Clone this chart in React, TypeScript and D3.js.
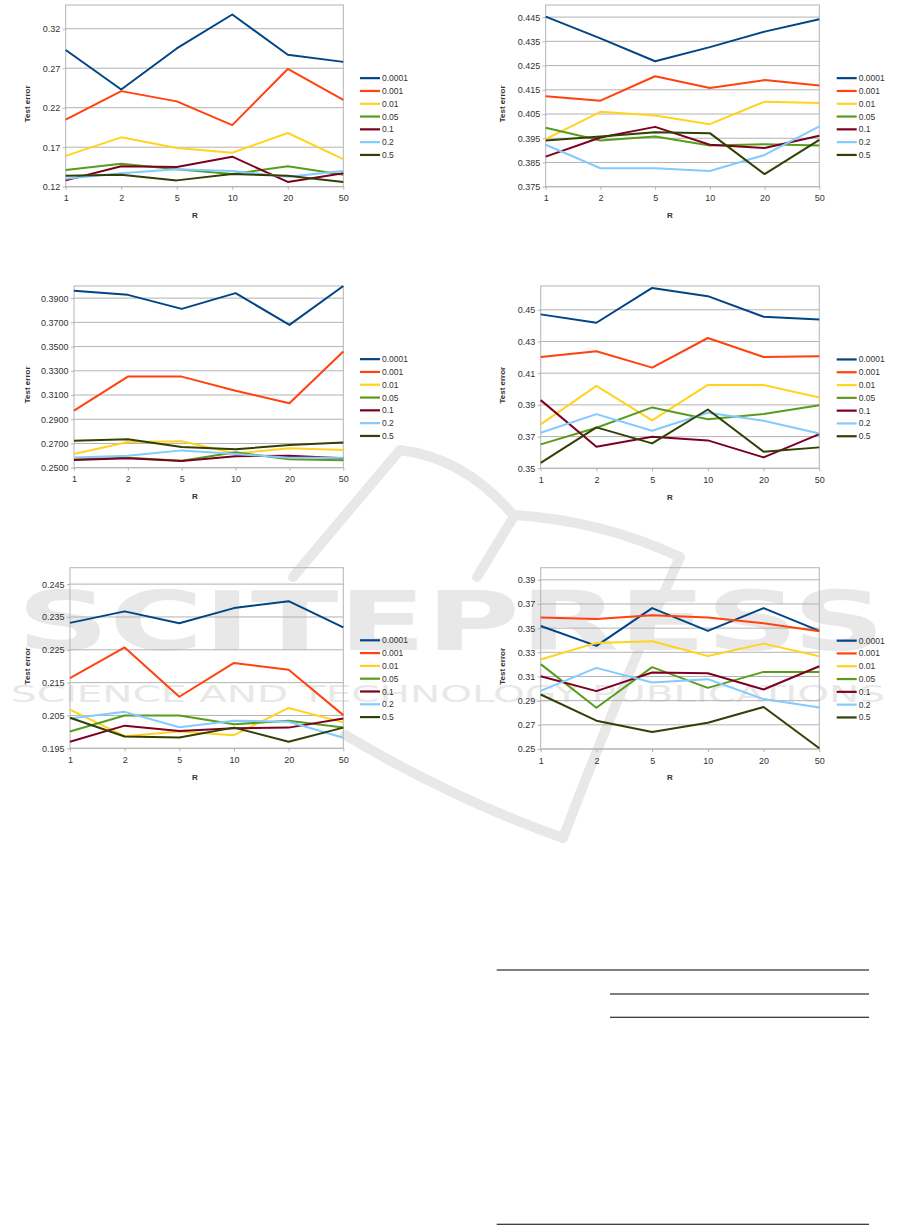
import React, { useEffect, useRef } from "react";
import * as d3 from "d3";

// R values on the x axis, one legend entry per series
const categories = ["1", "2", "5", "10", "20", "50"];
const seriesNames = ["0.0001", "0.001", "0.01", "0.05", "0.1", "0.2", "0.5"];
const seriesColors = ["#004586", "#ff420e", "#ffd320", "#579d1c", "#7e0021", "#83caff", "#314004"];

// top-left
const chart1Values = [
  [0.293, 0.243, 0.295, 0.338, 0.287, 0.278],
  [0.205, 0.241, 0.228, 0.198, 0.269, 0.23],
  [0.159, 0.1825, 0.169, 0.163, 0.188, 0.155],
  [0.141, 0.149, 0.142, 0.136, 0.146, 0.135],
  [0.128, 0.146, 0.145, 0.158, 0.126, 0.137],
  [0.13, 0.137, 0.142, 0.14, 0.1325, 0.14],
  [0.134, 0.135, 0.128, 0.136, 0.134, 0.126],
];
const chart1Ticks = ["0.12", "0.17", "0.22", "0.27", "0.32"];

// top-right
const chart2Values = [
  [0.4452, 0.4362, 0.4268, 0.4326, 0.439, 0.4441],
  [0.4123, 0.4105, 0.4206, 0.4157, 0.419, 0.4168],
  [0.3946, 0.4059, 0.4044, 0.4008, 0.4101, 0.4095],
  [0.3993, 0.3941, 0.3957, 0.392, 0.3925, 0.392],
  [0.3874, 0.3953, 0.3997, 0.3923, 0.391, 0.396],
  [0.3923, 0.3826, 0.3826, 0.3815, 0.3881, 0.3999],
  [0.3941, 0.3957, 0.3975, 0.3971, 0.3802, 0.3943],
];
const chart2Ticks = ["0.375", "0.385", "0.395", "0.405", "0.415", "0.425", "0.435", "0.445"];

// middle-left
const chart3Values = [
  [0.396, 0.3927, 0.3811, 0.3941, 0.3679, 0.4],
  [0.2971, 0.3252, 0.3252, 0.3136, 0.3032, 0.3459],
  [0.2613, 0.2712, 0.2718, 0.2618, 0.266, 0.2646],
  [0.2569, 0.2583, 0.2558, 0.2627, 0.2569, 0.2561],
  [0.2563, 0.2577, 0.2555, 0.2594, 0.2599, 0.2577],
  [0.2585, 0.2599, 0.2643, 0.2613, 0.2583, 0.2583],
  [0.2723, 0.2734, 0.2671, 0.2652, 0.2687, 0.2709],
];
const chart3Ticks = ["0.2500", "0.2700", "0.2900", "0.3100", "0.3300", "0.3500", "0.3700", "0.3900"];

// middle-right
const chart4Values = [
  [0.4471, 0.4418, 0.4638, 0.4586, 0.4456, 0.4439],
  [0.4202, 0.4238, 0.4135, 0.4322, 0.4202, 0.4207],
  [0.3777, 0.402, 0.3802, 0.4026, 0.4026, 0.3947],
  [0.3651, 0.3756, 0.3884, 0.381, 0.3842, 0.3898],
  [0.393, 0.3636, 0.3699, 0.3676, 0.3569, 0.3716],
  [0.3724, 0.3842, 0.3737, 0.385, 0.38, 0.372],
  [0.3534, 0.3758, 0.3657, 0.3871, 0.3605, 0.3632],
];
const chart4Ticks = ["0.35", "0.37", "0.39", "0.41", "0.43", "0.45"];

// bottom-left
const chart5Values = [
  [0.2332, 0.2367, 0.2331, 0.2377, 0.2398, 0.2318],
  [0.2164, 0.2257, 0.2107, 0.221, 0.2189, 0.2051],
  [0.2068, 0.1987, 0.2001, 0.199, 0.2073, 0.2029],
  [0.2001, 0.205, 0.205, 0.2023, 0.2034, 0.2013],
  [0.197, 0.2019, 0.2003, 0.2011, 0.2013, 0.2041],
  [0.2041, 0.2061, 0.2014, 0.2034, 0.2031, 0.1982],
  [0.2043, 0.1986, 0.1983, 0.2013, 0.197, 0.2013],
];
const chart5Ticks = ["0.195", "0.205", "0.215", "0.225", "0.235", "0.245"];

// bottom-right
const chart6Values = [
  [0.3518, 0.3353, 0.3666, 0.3477, 0.3666, 0.3477],
  [0.3587, 0.3576, 0.3606, 0.3587, 0.354, 0.3474],
  [0.324, 0.3378, 0.3391, 0.327, 0.3372, 0.3268],
  [0.3202, 0.2841, 0.3177, 0.3006, 0.3138, 0.3138],
  [0.3102, 0.2979, 0.3133, 0.3127, 0.2992, 0.3185],
  [0.2981, 0.3171, 0.305, 0.3078, 0.2913, 0.2844],
  [0.2951, 0.2734, 0.264, 0.2717, 0.2847, 0.2506],
];
const chart6Ticks = ["0.25", "0.27", "0.29", "0.31", "0.33", "0.35", "0.37", "0.39"];

const FONT = "'Liberation Sans', Arial, sans-serif";
const GRID = "#b3b3b3";
const TEXT = "#333";
const WATERMARK = "#e8e8e8";

const charts = [
  { values: chart1Values, ticks: chart1Ticks, domain: [0.12, 0.35], left: 65.7, right: 343.3, top: 5, bottom: 186.7, col: 0 },
  { values: chart2Values, ticks: chart2Ticks, domain: [0.375, 0.45], left: 545.7, right: 819.3, top: 5, bottom: 186.7, col: 1 },
  { values: chart3Values, ticks: chart3Ticks, domain: [0.25, 0.4], left: 74, right: 343.3, top: 286, bottom: 467.7, col: 0 },
  { values: chart4Values, ticks: chart4Ticks, domain: [0.35, 0.465], left: 540.7, right: 819.3, top: 286, bottom: 468.3, col: 1 },
  { values: chart5Values, ticks: chart5Ticks, domain: [0.195, 0.25], left: 70, right: 343.3, top: 567.7, bottom: 748.3, col: 0 },
  { values: chart6Values, ticks: chart6Ticks, domain: [0.25, 0.4], left: 540.7, right: 819.3, top: 567.7, bottom: 749, col: 1 },
];

const columns = [
  { titleX: 27, rX: 195, legendX: 360 },
  { titleX: 502, rX: 670, legendX: 836.7 },
];

function drawWatermark(svg: any) {
  const wm = svg.append("g").attr("fill", WATERMARK).attr("stroke", WATERMARK);
  wm.append("path")
    .attr("d", "M 293 577 L 400 450 Q 465 458 513 515 Q 600 520 680 557 Q 615 700 563 838 Q 455 800 345 735")
    .attr("fill", "none")
    .attr("stroke-width", 10)
    .attr("stroke-linecap", "round")
    .attr("stroke-linejoin", "round");
  wm.append("path")
    .attr("d", "M 477 577 L 513 518")
    .attr("fill", "none")
    .attr("stroke-width", 10)
    .attr("stroke-linecap", "round");
  wm.append("text")
    .attr("x", 17)
    .attr("y", 650)
    .attr("stroke", "none")
    .attr("font-family", "'DejaVu Sans', sans-serif")
    .attr("font-weight", "bold")
    .attr("font-size", 82)
    .attr("textLength", 868)
    .attr("lengthAdjust", "spacingAndGlyphs")
    .text("SCITEPRESS");
  wm.append("text")
    .attr("x", 11)
    .attr("y", 702)
    .attr("stroke", "none")
    .attr("font-family", "'DejaVu Sans', sans-serif")
    .attr("font-size", 23)
    .attr("textLength", 874)
    .attr("lengthAdjust", "spacingAndGlyphs")
    .text("SCIENCE AND TECHNOLOGY PUBLICATIONS");
}

function drawChart(svg: any, cfg: any) {
  const col = columns[cfg.col];
  const g = svg.append("g");
  const x = d3.scalePoint<string>().domain(categories).range([cfg.left, cfg.right]);
  const y = d3.scaleLinear().domain(cfg.domain).range([cfg.bottom, cfg.top]);

  // horizontal grid
  g.selectAll("line.grid")
    .data(cfg.ticks)
    .join("line")
    .attr("class", "grid")
    .attr("x1", cfg.left)
    .attr("x2", cfg.right)
    .attr("y1", (d: string) => y(+d))
    .attr("y2", (d: string) => y(+d))
    .attr("stroke", GRID)
    .attr("stroke-width", 1);

  // frame
  g.append("rect")
    .attr("x", cfg.left)
    .attr("y", cfg.top)
    .attr("width", cfg.right - cfg.left)
    .attr("height", cfg.bottom - cfg.top)
    .attr("fill", "none")
    .attr("stroke", GRID);

  const yAxis = d3
    .axisLeft(y)
    .tickValues(cfg.ticks.map(Number))
    .tickFormat((_d: any, i: number) => cfg.ticks[i])
    .tickSize(3)
    .tickPadding(2.5);
  g.append("g")
    .attr("transform", `translate(${cfg.left},0)`)
    .call(yAxis)
    .attr("font-family", FONT)
    .attr("font-size", 9)
    .call((a: any) => a.select(".domain").remove())
    .call((a: any) => a.selectAll("line").attr("stroke", GRID))
    .call((a: any) => a.selectAll("text").attr("fill", TEXT));

  const xAxis = d3.axisBottom(x).tickSize(3).tickPadding(5.4);
  g.append("g")
    .attr("transform", `translate(0,${cfg.bottom})`)
    .call(xAxis)
    .attr("font-family", FONT)
    .attr("font-size", 9)
    .call((a: any) => a.select(".domain").remove())
    .call((a: any) => a.selectAll("line").attr("stroke", GRID))
    .call((a: any) => a.selectAll("text").attr("fill", TEXT));

  // series lines
  const line = d3
    .line<number>()
    .x((_d, i) => x(categories[i]) as number)
    .y((d) => y(d));
  cfg.values.forEach((vals: number[], i: number) => {
    g.append("path")
      .attr("d", line(vals))
      .attr("fill", "none")
      .attr("stroke", seriesColors[i])
      .attr("stroke-width", 2)
      .attr("stroke-linejoin", "round");
  });

  // axis titles
  const midY = (cfg.top + cfg.bottom) / 2;
  g.append("text")
    .attr("transform", `translate(${col.titleX},${midY + 8}) rotate(-90)`)
    .attr("text-anchor", "middle")
    .attr("dy", "0.35em")
    .attr("font-family", FONT)
    .attr("font-weight", "bold")
    .attr("font-size", 8)
    .attr("fill", TEXT)
    .text("Test error");
  g.append("text")
    .attr("x", col.rX)
    .attr("y", cfg.bottom + 31.3)
    .attr("text-anchor", "middle")
    .attr("font-family", FONT)
    .attr("font-weight", "bold")
    .attr("font-size", 8)
    .attr("fill", TEXT)
    .text("R");

  // legend
  const legendTop = midY - 17.7;
  const legend = g.append("g");
  seriesNames.forEach((name, i) => {
    const ly = legendTop + i * 12.8;
    legend
      .append("line")
      .attr("x1", col.legendX)
      .attr("x2", col.legendX + 20)
      .attr("y1", ly)
      .attr("y2", ly)
      .attr("stroke", seriesColors[i])
      .attr("stroke-width", 2.2);
    legend
      .append("text")
      .attr("x", col.legendX + 22)
      .attr("y", ly + 3)
      .attr("font-family", FONT)
      .attr("font-size", 8.5)
      .attr("fill", TEXT)
      .text(name);
  });
}

function drawTableRules(svg: any) {
  const rules = [
    [496.7, 869, 970],
    [610, 869, 994],
    [610, 869, 1017.3],
    [496.7, 869, 1224.3],
  ];
  svg
    .append("g")
    .selectAll("line")
    .data(rules)
    .join("line")
    .attr("x1", (d: number[]) => d[0])
    .attr("x2", (d: number[]) => d[1])
    .attr("y1", (d: number[]) => d[2])
    .attr("y2", (d: number[]) => d[2])
    .attr("stroke", "#000")
    .attr("stroke-width", 1.1);
}

export default function App() {
  const ref = useRef<SVGSVGElement | null>(null);

  useEffect(() => {
    const svg = d3.select(ref.current);
    svg.selectAll("*").remove();
    drawWatermark(svg);
    charts.forEach((c) => drawChart(svg, c));
    drawTableRules(svg);
  }, []);

  return (
    <div style={{ position: "absolute", left: 0, top: 0 }}>
      <svg ref={ref} width={901} height={1225} style={{ display: "block", background: "#fff" }} />
    </div>
  );
}
